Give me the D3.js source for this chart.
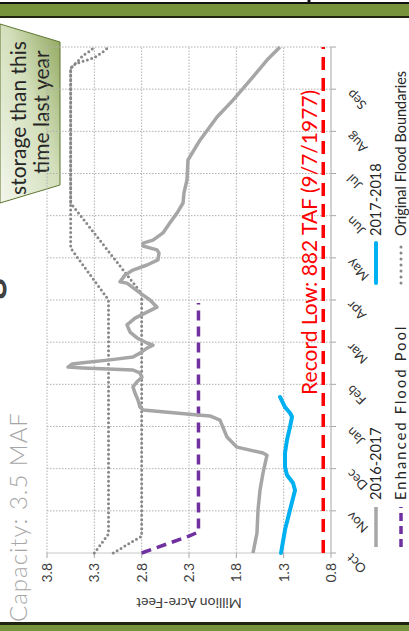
<!DOCTYPE html>
<html><head><meta charset="utf-8">
<script src="https://cdn.jsdelivr.net/npm/d3@7"></script>
<style>html,body{margin:0;padding:0;background:#fff;}svg{display:block;font-family:Lato,"Open Sans",sans-serif;}</style>
</head><body><div id="chart"></div>
<script>
// ---- data ----
const months = ["Oct","Nov","Dec","Jan","Feb","Mar","Apr","May","Jun","Jul","Aug","Sep"];
const valueTicks = [0.8, 1.3, 1.8, 2.3, 2.8, 3.3, 3.8];
const recordLow = 0.882;
const recordLowLabel = "Record Low: 882 TAF (9/7/1977)";
// [months since Oct 1, million acre-feet]
const wy2017 = [[0,1.624],[0.47,1.582],[1.02,1.571],[1.49,1.55],[1.9,1.518],[2.32,1.476],[2.37,1.518],[2.51,1.793],[2.75,1.899],[3.15,1.973],[3.25,2.078],[3.27,2.205],[3.39,2.786],[3.46,2.818],[3.63,2.839],[3.79,2.87],[3.94,2.892],[4.06,2.849],[4.17,2.797],[4.27,2.818],[4.34,2.892],[4.39,3.42],[4.41,3.578],[4.48,3.536],[4.51,3.42],[4.58,3.135],[4.65,2.892],[4.74,2.818],[4.86,2.744],[4.93,2.68],[4.98,2.744],[5.1,2.849],[5.24,2.923],[5.41,2.955],[5.57,2.87],[5.83,2.638],[6.0,2.712],[6.17,2.818],[6.4,2.955],[6.43,3.029],[6.59,2.976],[6.71,2.892],[6.83,2.744],[6.95,2.628],[7.11,2.617],[7.19,2.638],[7.28,2.786],[7.35,2.786],[7.42,2.68],[7.59,2.575],[7.83,2.501],[8.06,2.427],[8.3,2.363],[8.54,2.353],[8.85,2.321],[9.32,2.311],[9.79,2.184],[10.34,2.004],[10.74,1.835],[11.29,1.624],[11.69,1.476],[12,1.339]];
const wy2018 = [[0,1.328],[0.55,1.286],[1.02,1.233],[1.49,1.18],[1.66,1.201],[1.85,1.265],[2.04,1.286],[2.37,1.286],[2.68,1.265],[2.99,1.233],[3.23,1.212],[3.32,1.233],[3.46,1.286],[3.7,1.339]];
const enhancedPool = [[0,2.8],[0.4,2.3],[0.5,2.2],[5.93,2.2]];
const floodUpper = [[0,3.3],[0.45,3.15],[6.0,3.15],[7.23,3.55],[11.5,3.55],[11.65,3.48],[11.8,3.42],[11.9,3.35],[12,3.3]];
const floodLower = [[0,3.1],[0.4,2.8],[6.15,2.8],[8.3,3.55],[11.5,3.55],[11.6,3.5],[11.75,3.3],[11.9,3.2],[12,3.15]];
const legendItems = ["2016-2017","Enhanced Flood Pool","2017-2018","Original Flood Boundaries"];

// ---- drawing ----
const svg = d3.select("#chart").append("svg").attr("width",409).attr("height",631);
const defs = svg.append("defs");
const grad = defs.append("linearGradient").attr("id","cg").attr("x1","0").attr("y1","1").attr("x2","1").attr("y2","0");
grad.append("stop").attr("offset","0").attr("stop-color","#f3f6ec");
grad.append("stop").attr("offset","0.55").attr("stop-color","#d3dfbb");
grad.append("stop").attr("offset","1").attr("stop-color","#8ea55a");

// header / footer bands
svg.append("rect").attr("x",0).attr("y",0).attr("width",409).attr("height",4).attr("fill","#fff");
svg.append("line").attr("x1",0).attr("x2",409).attr("y1",3).attr("y2",3).attr("stroke","#111").attr("stroke-width",2);
svg.append("line").attr("x1",309).attr("x2",309).attr("y1",0).attr("y2",4).attr("stroke","#111").attr("stroke-width",3);
svg.append("rect").attr("x",0).attr("y",4).attr("width",409).attr("height",12).attr("fill","#77933c");
svg.append("rect").attr("x",0).attr("y",16).attr("width",409).attr("height",2).attr("fill","#1f2410");
svg.append("rect").attr("x",0).attr("y",622).attr("width",409).attr("height",3).attr("fill","#1f2410");
svg.append("rect").attr("x",0).attr("y",625).attr("width",409).attr("height",6).attr("fill","#77933c");

// left texts
svg.append("text").attr("transform","translate(-1,257) rotate(-90)").attr("text-anchor","end")
  .attr("font-size",40).attr("font-weight",700).attr("fill","#404040").text("Lake Oroville Storage");
svg.append("text").attr("transform","translate(27,622) rotate(-90)").attr("text-anchor","start")
  .attr("font-size",24).attr("font-weight",300).attr("letter-spacing",1).attr("fill","#a6a6a6").text("Capacity: 3.5 MAF");
svg.append("path").attr("d","M0,24 L60,42 L60,185 L0,203 Z").attr("fill","url(#cg)").attr("stroke","#5f7530").attr("stroke-width",1);
svg.append("text").attr("transform","translate(26,118) rotate(-90)").attr("text-anchor","middle")
  .attr("font-size",21).attr("fill","#262626").text("storage than this");
svg.append("text").attr("transform","translate(49,112) rotate(-90)").attr("text-anchor","middle")
  .attr("font-size",21).attr("fill","#262626").text("time last year");

// chart in un-rotated frame, then rotated
const W = 506, H = 284;
const x = d3.scaleLinear().domain([0,12]).range([0,W]);
const y = d3.scaleLinear().domain([0.8,3.8]).range([H,0]);
const g = svg.append("g").attr("transform","translate(47,553) rotate(-90)");

// gridlines
g.selectAll(".hg").data(valueTicks).join("line")
  .attr("x1",0).attr("x2",W).attr("y1",d=>y(d)).attr("y2",d=>y(d))
  .attr("stroke",d=>d===0.8?"#a6a6a6":"#b0b0b0").attr("stroke-width",1)
  .attr("stroke-dasharray",d=>d===0.8?null:"1.5,1.5");
const mIdx = d3.range(0,13);
g.selectAll(".vg").data(mIdx).join("line")
  .attr("x1",d=>x(d)).attr("x2",d=>x(d)).attr("y1",0).attr("y2",H)
  .attr("stroke",d=>d===0?"#c8c8c8":"#b0b0b0").attr("stroke-width",1)
  .attr("stroke-dasharray",d=>d===0?null:"1.5,1.5");
// ticks
g.selectAll(".mt").data(mIdx).join("line")
  .attr("x1",d=>x(d)).attr("x2",d=>x(d)).attr("y1",H).attr("y2",H+5).attr("stroke","#a6a6a6");
g.selectAll(".vt").data(valueTicks).join("line")
  .attr("x1",-5).attr("x2",0).attr("y1",d=>y(d)).attr("y2",d=>y(d)).attr("stroke","#a6a6a6");

// value labels
g.selectAll(".vl").data(valueTicks).join("text")
  .attr("x",-10).attr("y",d=>y(d)).attr("dy","0.35em").attr("text-anchor","end")
  .attr("font-size",14).attr("fill","#404040").text(d=>d.toFixed(1));
g.append("text").attr("transform",`translate(-50,${H/2}) rotate(-90)`).attr("text-anchor","middle")
  .attr("dy","0.35em").attr("font-size",14).attr("fill","#404040").text("Million Acre-Feet");
// month labels
g.selectAll(".ml").data(months).join("text")
  .attr("transform",(d,i)=>`translate(${x(i)-3},${H+18}) rotate(-45)`)
  .attr("text-anchor","end").attr("dy","0.35em").attr("font-size",13).attr("fill","#333").text(d=>d);

const line = d3.line().x(d=>x(d[0])).y(d=>y(d[1]));
g.append("path").attr("d",line(enhancedPool)).attr("fill","none").attr("stroke","#7030a0").attr("stroke-width",3.5).attr("stroke-dasharray","10,6");
[floodUpper,floodLower].forEach(s=>{
  g.append("path").attr("d",line(s)).attr("fill","none").attr("stroke","#888").attr("stroke-width",3)
   .attr("stroke-linecap","round").attr("stroke-dasharray","0,4.5");
});
g.append("path").attr("d",line([[0,recordLow],[12,recordLow]])).attr("fill","none").attr("stroke","#ff0000").attr("stroke-width",3.5).attr("stroke-dasharray","13,8");
g.append("text").attr("x",x(3.75)).attr("y",y(recordLow)-6).attr("font-size",21).attr("fill","#ff0000").text(recordLowLabel);
g.append("path").attr("d",line(wy2017)).attr("fill","none").attr("stroke","#a6a6a6").attr("stroke-width",3.5).attr("stroke-linejoin","round");
g.append("path").attr("d",line(wy2018)).attr("fill","none").attr("stroke","#00b0f0").attr("stroke-width",4).attr("stroke-linejoin","round").attr("stroke-linecap","round");

// legend
const legPos = [[6,329],[6,354],[270,329],[270,354]];
const legStyle = [
  {c:"#a6a6a6",w:3.5,da:null,cap:"butt",ls:0},
  {c:"#7030a0",w:3.5,da:"8,5",cap:"butt",ls:2.2},
  {c:"#00b0f0",w:4,da:null,cap:"round",ls:0},
  {c:"#888",w:3,da:"0,6",cap:"round",ls:0}];
legendItems.forEach((t,i)=>{
  const [lx,ly]=legPos[i], s=legStyle[i];
  g.append("line").attr("x1",lx).attr("x2",lx+40).attr("y1",ly).attr("y2",ly)
   .attr("stroke",s.c).attr("stroke-width",s.w).attr("stroke-dasharray",s.da).attr("stroke-linecap",s.cap);
  g.append("text").attr("x",lx+47).attr("y",ly).attr("dy","0.35em").attr("font-size",14.5)
   .attr("letter-spacing",s.ls).attr("fill","#262626").text(t);
});
</script></body></html>
